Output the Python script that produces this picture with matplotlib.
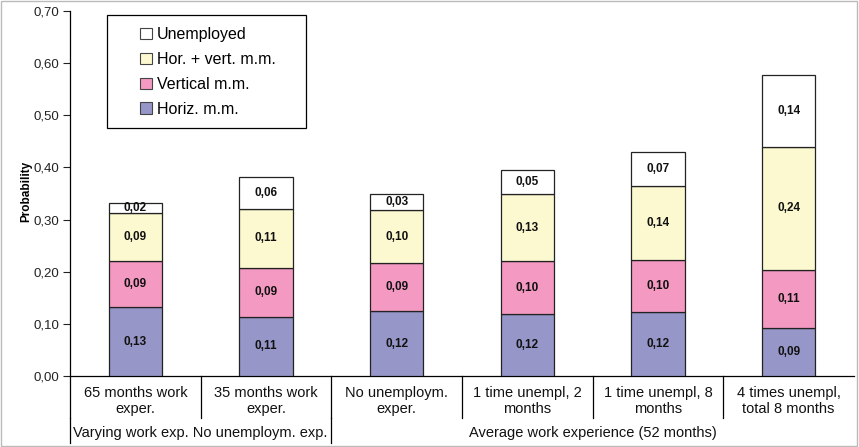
import matplotlib
matplotlib.use("Agg")
import matplotlib.pyplot as plt
from matplotlib.patches import Rectangle, Patch
from matplotlib.lines import Line2D
from matplotlib.ticker import MultipleLocator, FuncFormatter

plt.rcParams['font.family'] = ['Liberation Sans', 'DejaVu Sans']

categories = ["65 months work\nexper.", "35 months work\nexper.", "No unemploym.\nexper.",
              "1 time unempl, 2\nmonths", "1 time unempl, 8\nmonths", "4 times unempl,\ntotal 8 months"]
groups = ["Varying work exp. No unemploym. exp.", "Average work experience (52 months)"]
group_sizes = [2, 4]

horiz = [0.132, 0.114, 0.124, 0.119, 0.122, 0.092]
vertical = [0.089, 0.094, 0.093, 0.101, 0.100, 0.111]
horvert = [0.092, 0.113, 0.101, 0.129, 0.142, 0.237]
unemployed = [0.019, 0.060, 0.031, 0.046, 0.066, 0.138]

series = [("Horiz. m.m.", horiz, "#9696c8"),
          ("Vertical m.m.", vertical, "#f49ac2"),
          ("Hor. + vert. m.m.", horvert, "#fcf8d0"),
          ("Unemployed", unemployed, "#ffffff")]

fig = plt.figure(figsize=(8.59, 4.47), dpi=100)
ax = fig.add_axes([70/859, 1-376/447, 784/859, 365/447])

x = list(range(len(categories)))
bottom = [0.0]*len(x)
handles = []
for name, vals, col in series:
    ax.bar(x, vals, bottom=bottom, width=0.41, color=col, edgecolor="#222222", linewidth=0.9, zorder=3)
    for xi, v, b in zip(x, vals, bottom):
        ax.text(xi, b + v/2, f"{v:.2f}".replace(".", ","), ha="center", va="center",
                fontsize=8.5, fontweight="bold", color="#111111", zorder=4)
    bottom = [b + v for b, v in zip(bottom, vals)]
    handles.append(Patch(facecolor=col, edgecolor="#444444", linewidth=0.8, label=name))

ax.set_xlim(-0.5, len(x) - 0.5)
ax.set_ylim(0, 0.70)
ax.yaxis.set_major_locator(MultipleLocator(0.10))
ax.yaxis.set_major_formatter(FuncFormatter(lambda v, p: f"{v:.2f}".replace(".", ",")))
ax.tick_params(axis="y", direction="out", length=5, width=0.8, pad=3, labelsize=9.5, colors="#222222")
ax.tick_params(axis="x", bottom=False, labelbottom=False)
for s in ["top", "right"]:
    ax.spines[s].set_visible(False)
ax.spines["left"].set_linewidth(0.9)
ax.spines["bottom"].set_linewidth(0.9)

ax.set_ylabel("Probability", fontsize=8.5, fontweight="bold")
ax.yaxis.set_label_coords(-38/784, (376-191)/365, transform=ax.transAxes)

tr = ax.get_xaxis_transform()
row1 = -42/365
row2 = -67/365
# category labels and separators
for xi, lab in zip(x, categories):
    ax.text(xi, -25/365, lab, transform=tr, ha="center", va="center", fontsize=10.5,
            linespacing=1.15, color="#111111")
for b in range(len(x)):
    ax.add_line(Line2D([b - 0.5, b - 0.5], [0, row1], transform=tr, color="black",
                       linewidth=0.9, clip_on=False))
# group labels
start = 0
for g, n in zip(groups, group_sizes):
    center = start + n/2 - 0.5
    ax.text(center, -57/365, g, transform=tr, ha="center", va="center", fontsize=10.5, color="#111111")
    ax.add_line(Line2D([start - 0.5, start - 0.5], [row1, row2], transform=tr, color="black",
                       linewidth=0.9, clip_on=False))
    start += n

# legend box
fig.patches.append(Rectangle((107/859, 1-128/447), 199/859, 113/447, transform=fig.transFigure,
                             facecolor="white", edgecolor="black", linewidth=0.9, zorder=5))
leg = fig.legend(handles=handles[::-1], loc="upper left", bbox_to_anchor=(129/859, 1-16/447),
                 frameon=False, fontsize=11.5, handlelength=0.75, handleheight=0.75,
                 handletextpad=0.3, labelspacing=0.62, borderpad=0.2)
leg.set_zorder(6)

# figure border
fig.patches.append(Rectangle((0.001, 0.002), 0.997, 0.996, transform=fig.transFigure,
                             facecolor="none", edgecolor="#bbbbbb", linewidth=1.0))

fig.savefig("out.png", dpi=100)
